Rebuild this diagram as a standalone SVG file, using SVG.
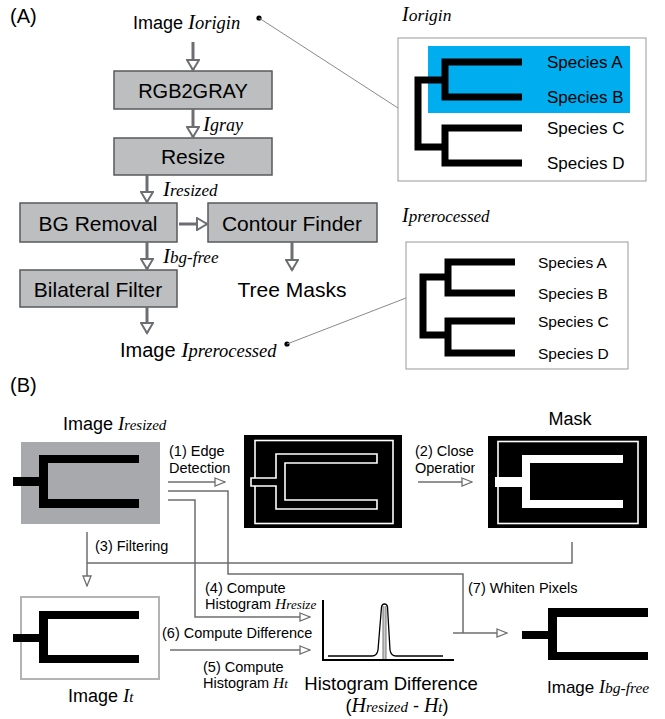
<svg xmlns="http://www.w3.org/2000/svg" width="665" height="719" viewBox="0 0 665 719">
<defs>
<style>
.s{font-family:"Liberation Sans",Arial,sans-serif;fill:#000}
.m{font-family:"Liberation Serif","Times New Roman",serif;font-style:italic;fill:#000}
.box{fill:#bcbec0;stroke:#58595b;stroke-width:1.5}
.ca{fill:none;stroke:#6d6e71;stroke-width:3}
.cb{fill:none;stroke:#6d6e71;stroke-width:1.5}
.thin{fill:none;stroke:#8a8a8a;stroke-width:1}
.tree{fill:none;stroke:#000;stroke-width:7}
</style>
<marker id="ha" markerUnits="userSpaceOnUse" markerWidth="14" markerHeight="14" viewBox="0 0 14 14" refX="12" refY="7" orient="auto">
<path d="M2,1 L12,7 L2,13 Z" fill="#fff" stroke="#6d6e71" stroke-width="2"/>
</marker>
<marker id="hb" markerUnits="userSpaceOnUse" markerWidth="12" markerHeight="10" viewBox="0 0 12 10" refX="11" refY="5" orient="auto">
<path d="M1,1 L11,5 L1,9 Z" fill="#fff" stroke="#6d6e71" stroke-width="1.3"/>
</marker>
<linearGradient id="pk" x1="0" y1="0" x2="1" y2="0">
<stop offset="0" stop-color="#777"/><stop offset="0.5" stop-color="#ccc"/><stop offset="1" stop-color="#777"/>
</linearGradient>
<clipPath id="clip2"><rect x="400" y="440" width="75" height="40"/></clipPath>
</defs>

<!-- Panel A -->
<text class="s" x="10" y="23" font-size="20">(A)</text>

<g id="img-origin-label">
<text x="133" y="29"><tspan class="s" font-size="18">Image </tspan><tspan class="m" font-size="21">I</tspan><tspan class="m" font-size="18.5">origin</tspan></text>
<circle cx="259" cy="18" r="2.6" fill="#000"/>
</g>

<g id="rgb2gray">
<rect class="box" x="114" y="71" width="158" height="38"/>
<text class="s" x="193" y="98" font-size="20" text-anchor="middle">RGB2GRAY</text>
</g>
<g id="resize">
<rect class="box" x="114" y="138" width="158" height="37"/>
<text class="s" x="193" y="164" font-size="21" text-anchor="middle">Resize</text>
</g>
<g id="bg-removal">
<rect class="box" x="20" y="203" width="157" height="39"/>
<text class="s" x="98" y="231" font-size="21" text-anchor="middle">BG Removal</text>
</g>
<g id="contour-finder">
<rect class="box" x="208" y="203" width="169" height="39"/>
<text class="s" x="292" y="231" font-size="21" text-anchor="middle">Contour Finder</text>
</g>
<g id="tree-masks">
<text class="s" x="292" y="297" font-size="21" text-anchor="middle">Tree Masks</text>
</g>
<g id="bilateral">
<rect class="box" x="20" y="270" width="157" height="37"/>
<text class="s" x="98" y="297" font-size="21" text-anchor="middle">Bilateral Filter</text>
</g>
<g id="img-pre-label">
<text x="120" y="357"><tspan class="s" font-size="20">Image </tspan><tspan class="m" font-size="22">I</tspan><tspan class="m" font-size="18.5">prerocessed</tspan></text>
<circle cx="287" cy="344" r="2.6" fill="#000"/>
</g>

<g id="a-labels">
<text x="203" y="131"><tspan class="m" font-size="21">I</tspan><tspan class="m" font-size="18">gray</tspan></text>
<text x="163" y="196"><tspan class="m" font-size="21">I</tspan><tspan class="m" font-size="17">resized</tspan></text>
<text x="163" y="263"><tspan class="m" font-size="21">I</tspan><tspan class="m" font-size="17">bg-free</tspan></text>
</g>

<g id="panel-origin">
<text x="402" y="21"><tspan class="m" font-size="20">I</tspan><tspan class="m" font-size="17.5">origin</tspan></text>
<rect x="398" y="38" width="248" height="143" fill="#fff" stroke="#999" stroke-width="1"/>
<rect x="428" y="46" width="202" height="67" fill="#00aeef"/>
<path class="tree" d="M418,76.5V150.5 M418,80H445 M418,147H445 M445,58.5V100.5 M445,124.5V166.5 M445,62H522 M445,97H522 M445,128H522 M445,163H522"/>
<g class="s" font-size="17">
<text x="547" y="68">Species A</text>
<text x="547" y="103">Species B</text>
<text x="547" y="134">Species C</text>
<text x="547" y="169">Species D</text>
</g>
</g>

<g id="panel-pre">
<text x="402" y="222"><tspan class="m" font-size="20">I</tspan><tspan class="m" font-size="17">prerocessed</tspan></text>
<rect x="406" y="242" width="222" height="127" fill="#fff" stroke="#999" stroke-width="1"/>
<path class="tree" d="M423,273.5V338.5 M423,277H448 M423,335H448 M448,258.5V296.5 M448,317.5V356.5 M448,262H515 M448,293H515 M448,321H515 M448,353H515"/>
<g class="s" font-size="15.5">
<text x="538" y="268">Species A</text>
<text x="538" y="299">Species B</text>
<text x="538" y="327">Species C</text>
<text x="538" y="359">Species D</text>
</g>
</g>

<g id="connectors-a">
<path class="ca" d="M193,42V70" marker-end="url(#ha)"/>
<path class="ca" d="M193,109V137" marker-end="url(#ha)"/>
<path class="ca" d="M147,175V202" marker-end="url(#ha)"/>
<path class="ca" d="M179,224H207" marker-end="url(#ha)"/>
<path class="ca" d="M147,242V269" marker-end="url(#ha)"/>
<path class="ca" d="M292,242V270" marker-end="url(#ha)"/>
<path class="ca" d="M147,307V333" marker-end="url(#ha)"/>
<path class="thin" d="M259,18L398,108"/>
<path class="thin" d="M287,344L406,298"/>
</g>

<!-- Panel B -->
<text class="s" x="10" y="392" font-size="20">(B)</text>

<g id="img-resized">
<text x="63" y="430"><tspan class="s" font-size="18">Image </tspan><tspan class="m" font-size="19">I</tspan><tspan class="m" font-size="15">resized</tspan></text>
<rect x="21" y="442" width="139" height="82" fill="#a7a9ac"/>
<path d="M13,477H39V455H139V463H48V499H139V508H39V486H13Z" fill="#000"/>
</g>

<g id="edge-img">
<rect x="244" y="435" width="158" height="93" fill="#000"/>
<rect x="255" y="440.5" width="138" height="83" fill="none" stroke="#fff" stroke-width="1.6"/>
<path d="M251,478H276V454H377V463H285V500H377V509H276V486H251Z" fill="#000" stroke="#fff" stroke-width="1.6"/>
</g>

<g id="mask">
<text class="s" x="570" y="425" font-size="18" text-anchor="middle">Mask</text>
<rect x="488" y="436" width="159" height="92" fill="#000"/>
<rect x="498" y="441.5" width="140" height="82" fill="none" stroke="#fff" stroke-width="1.6"/>
<path d="M495,477H522V455H623V463H530V500H623V508H522V487H495Z" fill="#fff"/>
</g>

<g id="img-t">
<rect x="21" y="597" width="138" height="82" fill="#fff" stroke="#b3b3b3" stroke-width="2"/>
<path d="M13,634H39V611H139V619H48V655H139V663H39V642H13Z" fill="#000"/>
<text x="68" y="702"><tspan class="s" font-size="18">Image </tspan><tspan class="m" font-size="19">I</tspan><tspan class="m" font-size="15">t</tspan></text>
</g>

<g id="histogram">
<path d="M323,600V660H454" fill="none" stroke="#000" stroke-width="2"/>
<rect x="382.5" y="606" width="4" height="53" fill="url(#pk)"/>
<path d="M328,656H372Q377,656 378,650L381.5,607Q382,604 384.5,604Q387,604 387.5,607L390,650Q391,656 396,656H443" fill="none" stroke="#000" stroke-width="1.3"/>
<text class="s" x="391" y="690" font-size="18.5" text-anchor="middle">Histogram Difference</text>
<text x="397" y="712" text-anchor="middle"><tspan class="s" font-size="18">(</tspan><tspan class="m" font-size="20">H</tspan><tspan class="m" font-size="15">resized</tspan><tspan class="s" font-size="18"> - </tspan><tspan class="m" font-size="20">H</tspan><tspan class="m" font-size="15">t</tspan><tspan class="s" font-size="18">)</tspan></text>
</g>

<g id="img-bgfree">
<path d="M522,631H548V608H648V617H557V652H648V660H548V639H522Z" fill="#000"/>
<text x="547" y="693"><tspan class="s" font-size="17">Image </tspan><tspan class="m" font-size="18">I</tspan><tspan class="m" font-size="15.5">bg-free</tspan></text>
</g>

<g id="b-labels" class="s" font-size="14.5">
<text x="169" y="456">(1) Edge</text>
<text x="169" y="473">Detection</text>
<g clip-path="url(#clip2)">
<text x="415" y="456">(2) Close</text>
<text x="415" y="473">Operation</text>
</g>
<text x="95" y="551">(3) Filtering</text>
<text x="205" y="593">(4) Compute</text>
<text x="205" y="609">Histogram <tspan class="m" font-size="15.5">H</tspan><tspan class="m" font-size="13">resize</tspan></text>
<text x="162" y="638">(6) Compute Difference</text>
<text x="203" y="672">(5) Compute</text>
<text x="203" y="688">Histogram <tspan class="m" font-size="15.5">H</tspan><tspan class="m" font-size="13">t</tspan></text>
<text x="468" y="593">(7) Whiten Pixels</text>
</g>

<g id="connectors-b">
<path class="cb" d="M168,482H225" marker-end="url(#hb)"/>
<path class="cb" d="M418,482H472" marker-end="url(#hb)"/>
<path class="cb" d="M168,491H228V574H463V633"/>
<path class="cb" d="M168,500H195V617H310" marker-end="url(#hb)"/>
<path class="cb" d="M572,542V563H87"/>
<path class="cb" d="M87,532V586" marker-end="url(#hb)"/>
<path class="cb" d="M170,650H310" marker-end="url(#hb)"/>
<path class="cb" d="M453,633H507" marker-end="url(#hb)"/>
</g>
</svg>
